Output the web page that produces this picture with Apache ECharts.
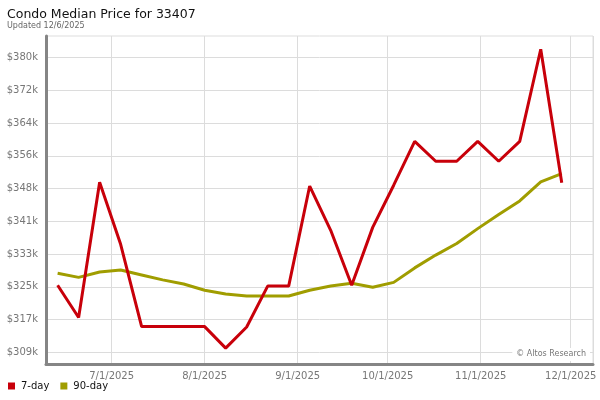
<!DOCTYPE html>
<html><head><meta charset="utf-8">
<script src="https://cdn.jsdelivr.net/npm/echarts@6/dist/echarts.min.js"></script>
<style>html,body{margin:0;padding:0;background:#fff}#c{width:600px;height:400px}</style>
</head><body><div id="c"></div>
<script>
// Weekly dates (year, month 1-12, day)
const dates = [
  [2025,6,13],[2025,6,20],[2025,6,27],[2025,7,4],[2025,7,11],[2025,7,18],[2025,7,25],
  [2025,8,1],[2025,8,8],[2025,8,15],[2025,8,22],[2025,8,29],[2025,9,5],[2025,9,12],
  [2025,9,19],[2025,9,26],[2025,10,3],[2025,10,10],[2025,10,17],[2025,10,24],[2025,10,31],
  [2025,11,7],[2025,11,14],[2025,11,21],[2025,11,28]
];
// Median price in $ thousands
const sevenDay = [325.1,317.3,350.0,335.0,315.1,315.1,315.1,315.1,309.9,315.0,324.9,324.9,
  349.1,338.4,325.1,339.1,349.3,359.9,355.1,355.1,359.9,355.1,359.9,382.2,349.9];
const ninetyDay = [328.0,327.0,328.3,328.8,327.6,326.4,325.4,323.9,323.0,322.5,322.5,322.5,
  323.9,324.9,325.6,324.6,325.8,329.3,332.4,335.2,338.8,342.2,345.5,350.1,352.1];
// Y tick positions ($ thousands) and their labels
const yTickValues = [308.88,316.8,324.72,332.64,340.56,348.48,356.4,364.32,372.24,380.16];
const yTickLabels = ['$309k','$317k','$325k','$333k','$341k','$348k','$356k','$364k','$372k','$380k'];

const toTime = d => new Date(d[0], d[1]-1, d[2]).getTime();
const s1 = dates.map((d,i)=>[toTime(d), sevenDay[i]]);
const s2 = dates.map((d,i)=>[toTime(d), ninetyDay[i]]);

const chart = echarts.init(document.getElementById('c'), null, {renderer:'canvas'});
const FONT = 'DejaVu Sans';
chart.setOption({
  animation:false,
  backgroundColor:'#fff',
  textStyle:{fontFamily:FONT},
  title:{
    text:'Condo Median Price for 33407',
    subtext:'Updated 12/6/2025',
    left:2, top:3, itemGap:1,
    textStyle:{fontFamily:FONT,fontSize:12.5,fontWeight:'normal',color:'#111'},
    subtextStyle:{fontFamily:FONT,fontSize:8,color:'#666'}
  },
  legend:{
    left:3, bottom:4, itemWidth:7, itemHeight:7, itemGap:11,
    icon:'rect',
    textStyle:{fontFamily:FONT,fontSize:10,color:'#111',padding:[0,0,0,1]},
    data:['7-day','90-day']
  },
  grid:{left:46, right:7, top:36, bottom:36, show:true, borderColor:'#ddd', borderWidth:1},
  xAxis:{
    type:'time',
    min:new Date(2025,5,9,3).getTime(),
    max:new Date(2025,11,8,10).getTime(),
    splitNumber:6,
    axisLine:{show:true,onZero:false,lineStyle:{color:'#858585',width:3}},
    axisTick:{show:false},
    splitLine:{show:true,lineStyle:{color:'#dcdcdc',width:1}},
    axisLabel:{
      color:'#777',fontFamily:FONT,fontSize:10,margin:7,
      formatter:function(v){const d=new Date(v);return (d.getMonth()+1)+'/'+d.getDate()+'/'+d.getFullYear();}
    }
  },
  yAxis:{
    type:'value',
    min:306.05, max:385.4,
    axisLine:{show:true,lineStyle:{color:'#858585',width:3}},
    axisTick:{show:false,customValues:yTickValues},
    splitLine:{show:true,customValues:yTickValues,lineStyle:{color:'#dcdcdc',width:1}},
    axisLabel:{color:'#777',fontFamily:FONT,fontSize:10,margin:8,customValues:yTickValues,
      formatter:function(v){const i=yTickValues.indexOf(v);return i>=0?yTickLabels[i]:'';}}
  },
  graphic:[{
    type:'text', right:10, top:348, z:100,
    style:{text:'\u00a9 Altos Research', fill:'#777', font:'8px "DejaVu Sans"',
      backgroundColor:'#fff', padding:[2,4,3,4]}
  }],
  series:[
    {name:'7-day',type:'line',data:s1,showSymbol:false,symbol:'none',
     lineStyle:{color:'#c8000a',width:3},itemStyle:{color:'#c8000a'},z:3},
    {name:'90-day',type:'line',data:s2,showSymbol:false,symbol:'none',
     lineStyle:{color:'#a09d00',width:3},itemStyle:{color:'#a09d00'},z:2}
  ]
});
</script></body></html>
